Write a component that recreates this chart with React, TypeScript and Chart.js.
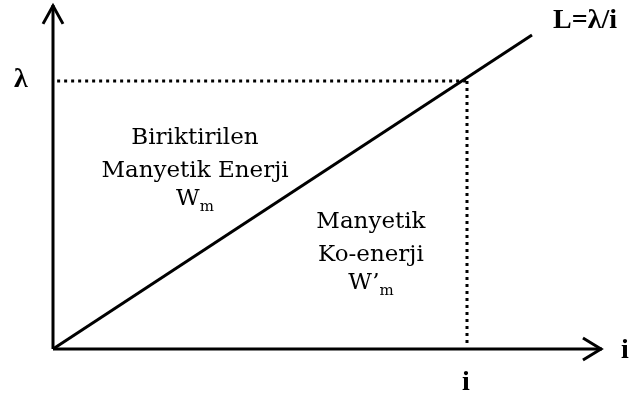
import React, { useEffect, useRef } from "react";
import { Chart, registerables } from "chart.js";

Chart.register(...registerables);

// Data (in units of i and λ)
const lineX = [0, 1.157];
const lineY = [0, 1.172];
const lambdaLevel = 1;
const iLevel = 1;
const xAxisEnd = 1.326;
const yAxisEnd = 1.284;

const regionLabels = [
  { lines: ["Biriktirilen", "Manyetik Enerji"], sub: ["W", "m"], x: 0.343, y: 0.787 },
  { lines: ["Manyetik", "Ko-enerji"], sub: ["W’", "m"], x: 0.768, y: 0.473 },
];

const BODY_FONT = '"DejaVu Serif", serif';
const BOLD_FONT = '"Liberation Serif", "Times New Roman", serif';

const overlay = {
  id: "overlay",
  afterDatasetsDraw(chart: any) {
    const { ctx, scales } = chart;
    const xs = scales.x;
    const ys = scales.y;
    const px = (v: number) => xs.getPixelForValue(v);
    const py = (v: number) => ys.getPixelForValue(v);
    ctx.save();
    ctx.strokeStyle = "#000";
    ctx.lineWidth = 3;
    ctx.lineJoin = "miter";
    ctx.lineCap = "butt";
    // y arrow head
    const yt = { x: px(0), y: py(yAxisEnd) };
    ctx.beginPath();
    ctx.moveTo(yt.x - 10, yt.y + 19);
    ctx.lineTo(yt.x, yt.y + 1);
    ctx.lineTo(yt.x + 10, yt.y + 19);
    ctx.stroke();
    // x arrow head
    const xt = { x: px(xAxisEnd), y: py(0) };
    ctx.beginPath();
    ctx.moveTo(xt.x - 19, xt.y - 11);
    ctx.lineTo(xt.x - 1, xt.y);
    ctx.lineTo(xt.x - 19, xt.y + 11);
    ctx.stroke();

    ctx.fillStyle = "#000";
    ctx.textBaseline = "middle";
    // bold math labels
    ctx.font = `bold 28px ${BOLD_FONT}`;
    ctx.textAlign = "center";
    ctx.fillText("λ", px(0) - 32, py(lambdaLevel) - 1);
    ctx.fillText("i", px(iLevel) - 1, py(0) + 34);
    ctx.textAlign = "left";
    ctx.fillText("L=λ/i", px(lineX[1]) + 21, py(lineY[1]) - 14);
    ctx.fillText("i", px(xAxisEnd) + 19, py(0) + 2);

    // region labels
    for (const lab of regionLabels) {
      const cx = px(lab.x);
      let cy = py(lab.y);
      ctx.font = `23px ${BODY_FONT}`;
      ctx.textAlign = "center";
      for (const l of lab.lines) {
        ctx.fillText(l, cx, cy);
        cy += 33;
      }
      cy -= 5;
      const mainW = ctx.measureText(lab.sub[0]).width;
      ctx.font = `15px ${BODY_FONT}`;
      const subW = ctx.measureText(lab.sub[1]).width;
      const total = mainW + subW;
      ctx.textAlign = "left";
      ctx.font = `23px ${BODY_FONT}`;
      ctx.fillText(lab.sub[0], cx - total / 2, cy);
      ctx.font = `15px ${BODY_FONT}`;
      ctx.fillText(lab.sub[1], cx - total / 2 + mainW, cy + 8);
    }
    ctx.restore();
  },
};

export default function App() {
  const ref = useRef<HTMLCanvasElement | null>(null);
  useEffect(() => {
    if (!ref.current) return;
    const solid = { borderColor: "#000", borderWidth: 3, pointRadius: 0, showLine: true, clip: false as any, fill: false };
    const dotted = { ...solid, borderDash: [3, 4], borderWidth: 3 };
    const chart = new Chart(ref.current, {
      type: "scatter",
      data: {
        datasets: [
          { ...solid, data: [{ x: lineX[0], y: lineY[0] }, { x: lineX[1], y: lineY[1] }] },
          { ...dotted, data: [{ x: 0.01, y: lambdaLevel }, { x: iLevel, y: lambdaLevel }] },
          { ...dotted, data: [{ x: iLevel, y: lambdaLevel }, { x: iLevel, y: 0.01 }] },
          { ...solid, data: [{ x: 0, y: 0 }, { x: 0, y: yAxisEnd }] },
          { ...solid, data: [{ x: 0, y: 0 }, { x: xAxisEnd, y: 0 }] },
        ],
      },
      options: {
        responsive: false,
        animation: false,
        layout: { padding: 0 },
        plugins: { legend: { display: false }, tooltip: { enabled: false } },
        scales: {
          x: { type: "linear", display: false, min: -0.12802, max: 1.3913 },
          y: { type: "linear", display: false, min: -0.18284, max: 1.30224 },
        },
      },
      plugins: [overlay],
    });
    return () => chart.destroy();
  }, []);
  return (
    <div style={{ position: "fixed", left: 0, top: 0, width: 629, height: 398, background: "#fff" }}>
      <canvas ref={ref} width={629} height={398} style={{ display: "block" }} />
    </div>
  );
}
